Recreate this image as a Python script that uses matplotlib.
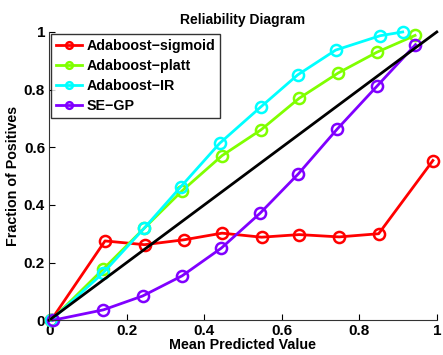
import matplotlib
matplotlib.use("Agg")
import matplotlib.pyplot as plt

# ---------------- data ----------------
x_sig = [0.005, 0.144, 0.246, 0.348, 0.446, 0.548, 0.645, 0.748, 0.85, 0.99]
y_sig = [0.0, 0.275, 0.262, 0.279, 0.302, 0.288, 0.297, 0.289, 0.30, 0.554]

x_platt = [0.005, 0.14, 0.245, 0.343, 0.446, 0.546, 0.645, 0.746, 0.846, 0.944]
y_platt = [0.0, 0.178, 0.319, 0.449, 0.571, 0.66, 0.77, 0.858, 0.93, 0.988]

x_ir = [0.005, 0.14, 0.245, 0.339, 0.44, 0.546, 0.641, 0.739, 0.854, 0.912]
y_ir = [0.0, 0.165, 0.319, 0.462, 0.614, 0.74, 0.851, 0.937, 0.987, 1.0]

x_gp = [0.01, 0.14, 0.241, 0.343, 0.444, 0.544, 0.643, 0.743, 0.845, 0.945]
y_gp = [0.0, 0.036, 0.084, 0.154, 0.25, 0.371, 0.508, 0.663, 0.811, 0.956]

labels = ["Adaboost\u2212sigmoid", "Adaboost\u2212platt", "Adaboost\u2212IR", "SE\u2212GP"]
colors = [(1, 0, 0), (0.5, 1, 0), (0, 1, 1), (0.5, 0, 1)]

xticks = [0, 0.2, 0.4, 0.6, 0.8, 1]
yticks = [0, 0.2, 0.4, 0.6, 0.8, 1]
tick_labels = ["0", "0.2", "0.4", "0.6", "0.8", "1"]

# ---------------- figure ----------------
plt.rcParams["font.family"] = ["Liberation Sans", "DejaVu Sans"]
plt.rcParams["font.weight"] = "bold"

fig = plt.figure(figsize=(4.43, 3.55), dpi=100)
ax = fig.add_axes([0.111, 0.098, 0.875, 0.812])

series = [(x_sig, y_sig), (x_platt, y_platt), (x_ir, y_ir), (x_gp, y_gp)]
for (xs, ys), lab, c in zip(series, labels, colors):
    ax.plot(xs, ys, "-o", color=c, lw=2, ms=8, mfc="none", mew=1.8,
            label=lab, clip_on=False)

ax.plot([0, 1], [0, 1], color="k", lw=2, clip_on=False)

ax.set_xlim(0, 1)
ax.set_ylim(0, 1)
ax.set_xticks(xticks)
ax.set_yticks(yticks)
ax.set_xticklabels(tick_labels)
ax.set_yticklabels(tick_labels)
ax.tick_params(direction="in", length=4, labelsize=11, pad=3)
for s in ["top", "right"]:
    ax.spines[s].set_visible(False)
for s in ["left", "bottom"]:
    ax.spines[s].set_color("#333333")

ax.set_title("Reliability Diagram", fontsize=10, fontweight="bold", pad=6)
ax.set_xlabel("Mean Predicted Value", fontsize=10.3, fontweight="bold", labelpad=0)
ax.set_ylabel("Fraction of Positives", fontsize=10.3, fontweight="bold", labelpad=3)

leg = ax.legend(loc="upper left", fontsize=10.3, frameon=True, fancybox=False,
                handlelength=1.8, handletextpad=0.3, borderpad=0.35,
                labelspacing=0.42, markerscale=0.6, borderaxespad=0.15)
leg.get_frame().set_edgecolor("k")
leg.get_frame().set_linewidth(1.0)

fig.savefig("out.png", dpi=100)
